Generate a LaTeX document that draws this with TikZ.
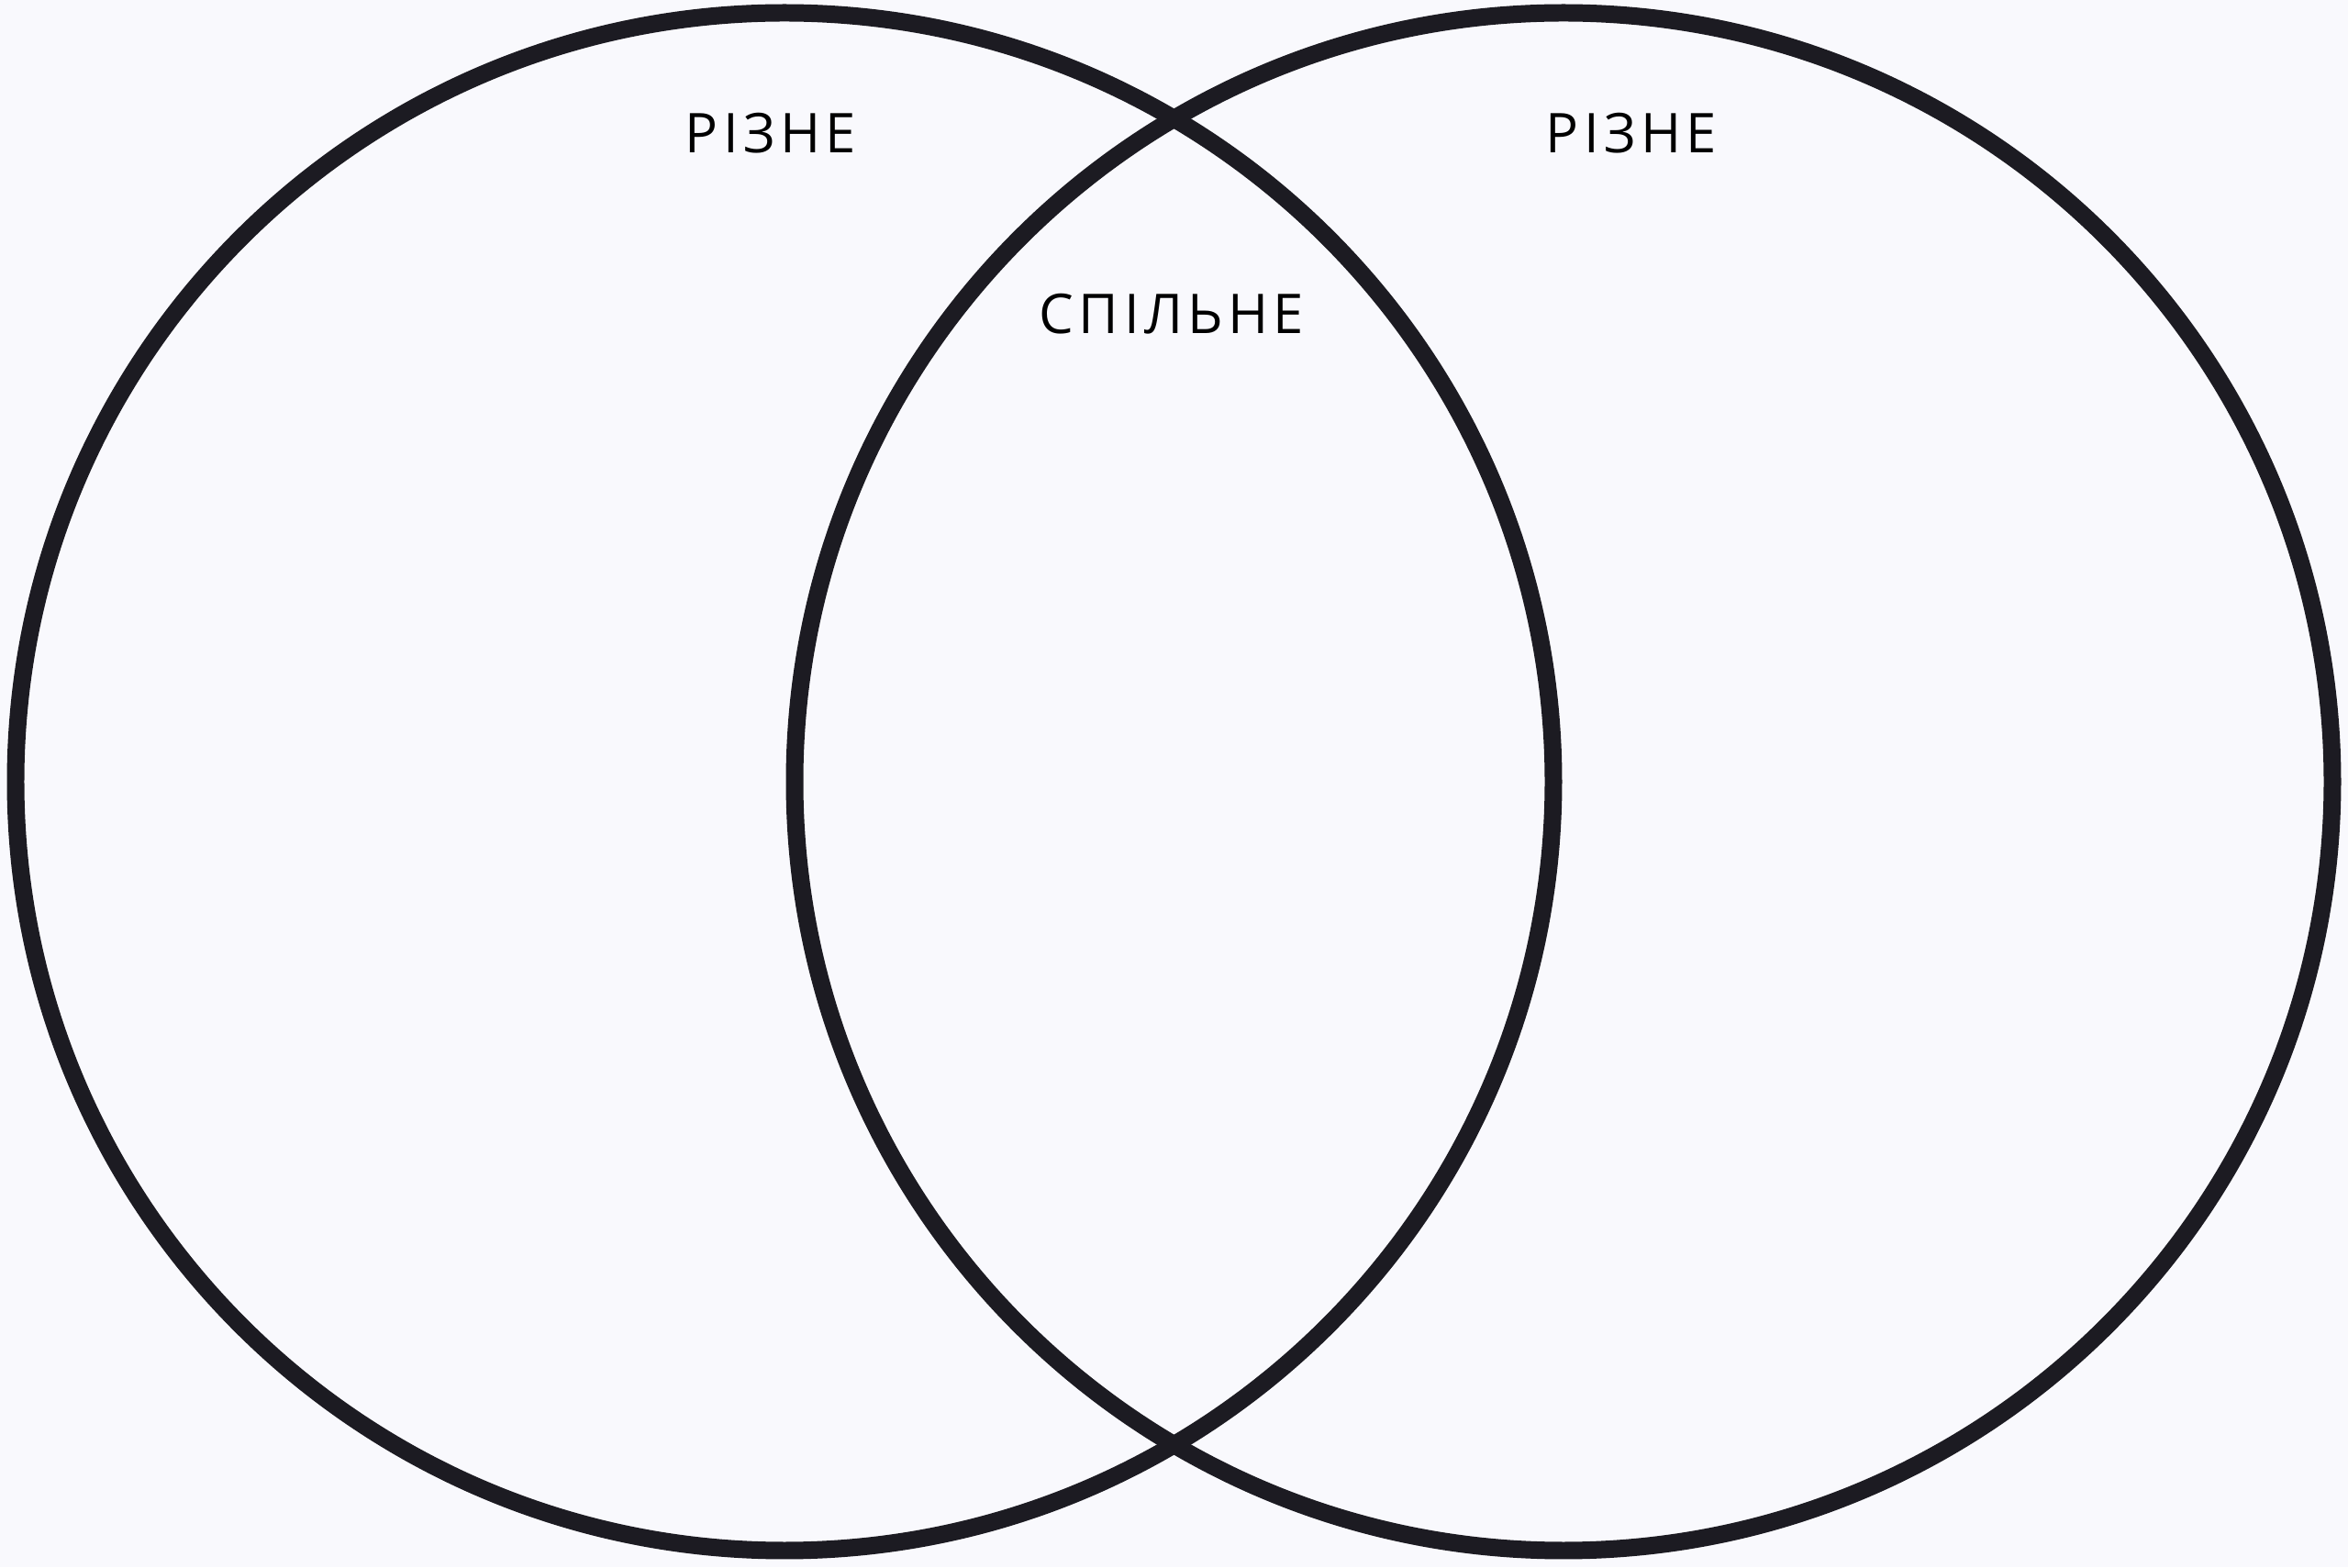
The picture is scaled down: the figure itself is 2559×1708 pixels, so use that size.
\documentclass[tikz,border=0pt]{standalone}
\usepackage{fontspec}
\setmainfont{Open Sans}
\newfontfamily\spacedfont[LetterSpace=9]{Open Sans}
\definecolor{paper}{HTML}{F9F9FD}
\definecolor{ink}{HTML}{1C1B22}
\begin{document}
\begin{tikzpicture}[x=0.01cm, y=0.01cm, line width=5.4pt,
    set/.style={draw=ink},
    word/.style={font=\spacedfont\fontsize{17}{20}\selectfont, text=black, inner sep=0pt}]
	\fill[paper] (0,0) rectangle (2559,1708);
	\useasboundingbox (0,0) rectangle (2559,1708);
	% the two sets
	\draw[set] (855,856) circle (838);
	\draw[set] (1704,856) circle (838);
	% labels
	\node[word] (leftlabel) at (840,1563) {РІЗНЕ};
	\node[word] (rightlabel) at (1778,1563) {РІЗНЕ};
	\node[word] (common) at (1277,1366) {СПІЛЬНЕ};
\end{tikzpicture}
\end{document}
